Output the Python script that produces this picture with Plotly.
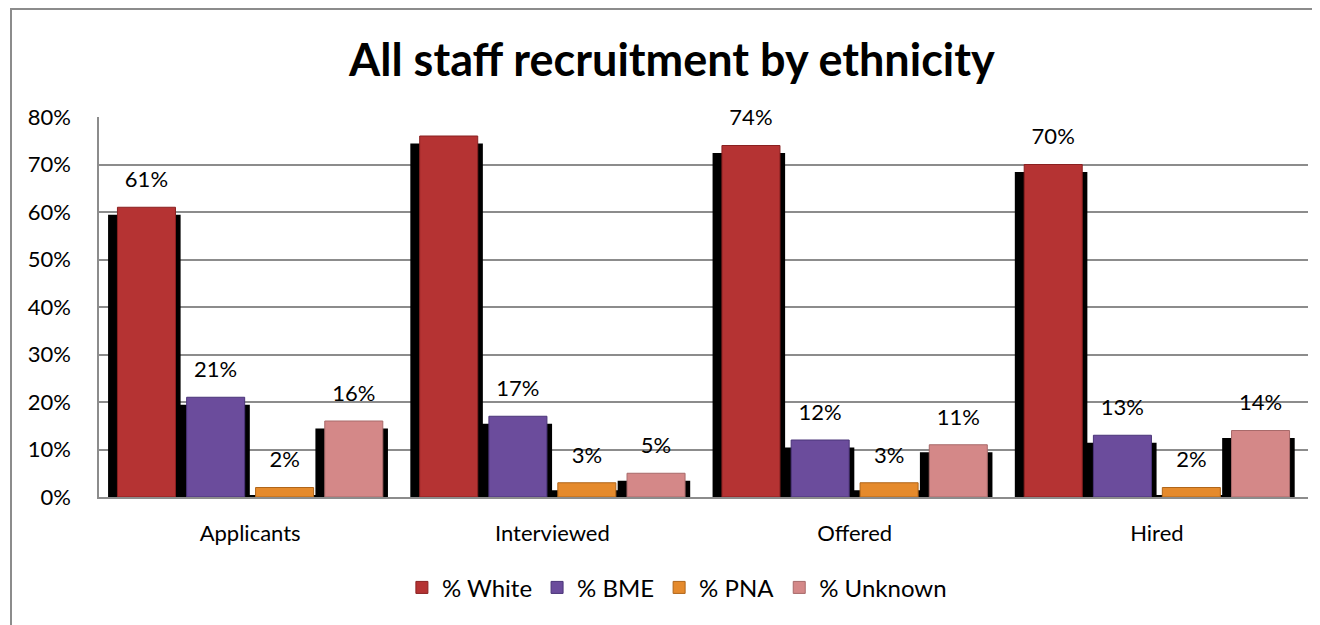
import plotly.graph_objects as go

categories = ["Applicants", "Interviewed", "Offered", "Hired"]
series_names = ["% White", "% BME", "% PNA", "% Unknown"]
white = [61, 76, 74, 70]
bme = [21, 17, 12, 13]
pna = [2, 3, 3, 2]
unknown = [16, 5, 11, 14]
y_ticks = [0, 10, 20, 30, 40, 50, 60, 70, 80]

series_values = [white, bme, pna, unknown]
colors = ["#B53333", "#6B4C9C", "#E58A2C", "#D48888"]
line_colors = ["#8A2020", "#4A3478", "#B0661A", "#A86A6A"]
offsets = [-0.343, -0.114, 0.114, 0.343]
bar_w = 0.192
shadow_w = 0.24
shadow_shift = -0.007
shadow_drop = 1.6
label_gap = 5.4
FONT = "Lato"

fig = go.Figure()
xs_base = list(range(len(categories)))

# shadows
for vals, off in zip(series_values, offsets):
    fig.add_trace(go.Bar(
        x=[i + off + shadow_shift for i in xs_base],
        y=[max(v - shadow_drop, 0.3) for v in vals],
        width=shadow_w, marker=dict(color="black", line=dict(width=0)),
        showlegend=False, hoverinfo="skip"))

# bars
for name, vals, off, c, lc in zip(series_names, series_values, offsets, colors, line_colors):
    fig.add_trace(go.Bar(
        x=[i + off for i in xs_base], y=vals, width=bar_w, name=name,
        marker=dict(color=c, line=dict(color=lc, width=1))))

# labels
for vals, off in zip(series_values, offsets):
    fig.add_trace(go.Scatter(
        x=[i + off for i in xs_base], y=[v + label_gap for v in vals],
        mode="text", text=[f"{v}%" for v in vals],
        textfont=dict(family=FONT, size=22, color="black"),
        showlegend=False, hoverinfo="skip", cliponaxis=False))

fig.update_layout(
    barmode="overlay",
    width=1320, height=625,
    paper_bgcolor="white", plot_bgcolor="white",
    margin=dict(l=91, r=20, t=109, b=136),
    title=dict(text="<b>All staff recruitment by ethnicity</b>", x=0.503, xanchor="center",
               y=0.917, yanchor="middle",
               font=dict(family=FONT, size=45, color="black")),
    xaxis=dict(range=[-0.5, 3.5], tickvals=xs_base, ticktext=categories,
               showgrid=False, showline=True, linecolor="#8C8C8C", linewidth=2,
               ticks="", ticklabelstandoff=16,
               tickfont=dict(family=FONT, size=22, color="black"),
               zeroline=False),
    yaxis=dict(range=[0, 80], tickvals=y_ticks, ticktext=[f"{t}%" for t in y_ticks],
               showgrid=True, gridcolor="#8C8C8C", gridwidth=1.5,
               showline=True, linecolor="#8C8C8C", linewidth=1.5,
               ticks="", ticklabelstandoff=22,
               tickfont=dict(family=FONT, size=22, color="black"),
               zeroline=False),
    legend=dict(orientation="h", x=0.478, xanchor="center", y=-0.239, yanchor="middle",
                font=dict(family=FONT, size=24, color="black"), itemwidth=30,
                traceorder="normal"),
    showlegend=True,
)

fig.add_shape(type="rect", xref="paper", yref="paper",
              x0=(3 - 91) / 1209, x1=1.1, y0=-0.6, y1=1 + 108 / 380,
              line=dict(color="#8C8C8C", width=2), fillcolor="rgba(0,0,0,0)", layer="below")

fig.write_html("out.html")
